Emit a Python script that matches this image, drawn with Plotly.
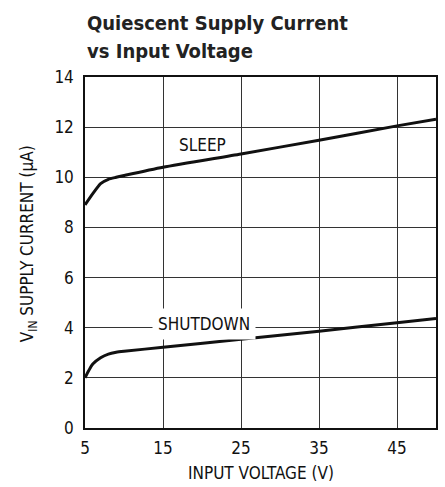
import plotly.graph_objects as go

# Data
sleep_v = [5, 6, 7, 8, 9, 10, 15, 25, 35, 45, 50]
sleep_i = [8.9, 9.35, 9.75, 9.92, 10.0, 10.07, 10.4, 10.93, 11.48, 12.05, 12.32]
shdn_v = [5, 5.5, 6, 7, 8, 9, 10, 15, 25, 35, 45, 50]
shdn_i = [2.0, 2.3, 2.55, 2.8, 2.95, 3.02, 3.06, 3.22, 3.54, 3.86, 4.2, 4.37]
x_ticks = [5, 15, 25, 35, 45]
y_ticks = [0, 2, 4, 6, 8, 10, 12, 14]
title_lines = ["Quiescent Supply Current", "vs Input Voltage"]

FONT = "DejaVu Sans Condensed, Liberation Sans Narrow, sans-serif"

fig = go.Figure()
fig.add_trace(go.Scatter(x=sleep_v, y=sleep_i, mode="lines",
                         line=dict(color="#111", width=3, shape="spline", smoothing=0.6),
                         showlegend=False, hoverinfo="skip"))
fig.add_trace(go.Scatter(x=shdn_v, y=shdn_i, mode="lines",
                         line=dict(color="#111", width=3, shape="spline", smoothing=0.6),
                         showlegend=False, hoverinfo="skip"))

fig.add_annotation(x=20.0, y=11.3, text="SLEEP", showarrow=False,
                   font=dict(family=FONT, size=17, color="#111"))
fig.add_annotation(x=20.3, y=4.15, text="SHUTDOWN", showarrow=False,
                   bgcolor="white", borderpad=5,
                   font=dict(family=FONT, size=17, color="#111"))

# Title (two lines, reference spacing)
for line, ypos in zip(title_lines, [1.114, 1.034]):
    fig.add_annotation(xref="paper", yref="paper", x=0, y=ypos,
                       xanchor="left", yanchor="bottom", align="left",
                       text="<b>" + line + "</b>",
                       showarrow=False, font=dict(family=FONT, size=20, color="#222"))
# Axis titles
fig.add_annotation(xref="paper", yref="paper", x=0.5, y=-0.128,
                   xanchor="center", yanchor="middle",
                   text="INPUT VOLTAGE (V)", showarrow=False,
                   font=dict(family=FONT, size=17, color="#111"))
fig.add_annotation(xref="paper", yref="paper", x=-0.162, y=0.524,
                   xanchor="center", yanchor="middle", textangle=-90,
                   text="V<sub>IN</sub> SUPPLY CURRENT (µA)", showarrow=False,
                   font=dict(family=FONT, size=17, color="#111"))

fig.update_layout(
    width=445, height=487,
    margin=dict(l=85, r=9, t=77, b=59),
    paper_bgcolor="white", plot_bgcolor="white",
    font=dict(family=FONT, size=17, color="#111"),
    xaxis=dict(range=[5, 50], tickvals=x_ticks, ticks="", showgrid=True,
               gridcolor="#333", gridwidth=1, zeroline=False, automargin=False,
               showline=True, linecolor="#111", linewidth=1.5, mirror=True,
               ticklabelstandoff=4,
               tickfont=dict(family=FONT, size=17)),
    yaxis=dict(range=[0, 14], tickvals=y_ticks, ticks="", showgrid=True,
               gridcolor="#333", gridwidth=1, zeroline=False, automargin=False,
               showline=True, linecolor="#111", linewidth=1.5, mirror=True,
               ticklabelstandoff=6,
               tickfont=dict(family=FONT, size=17)),
)

fig.write_html("out.html", config={"displayModeBar": False},
               post_script="document.body.style.margin='0';")
